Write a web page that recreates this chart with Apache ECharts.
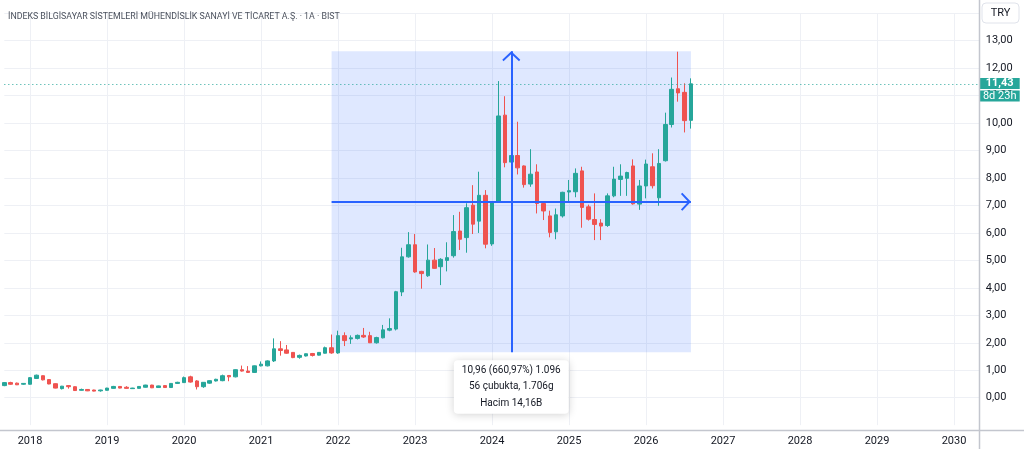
<!DOCTYPE html>
<html>
<head>
<meta charset="utf-8">
<script src="https://cdn.jsdelivr.net/npm/echarts@6/dist/echarts.min.js"></script>
<style>
html,body{margin:0;padding:0;background:#fff;}
#chart{width:1024px;height:449px;}
</style>
</head>
<body>
<div id="chart"></div>
<script>
// ---- texts ----
const titleText = 'İNDEKS BİLGİSAYAR SİSTEMLERİ MÜHENDİSLİK SANAYİ VE TİCARET A.Ş. · 1A · BIST';
const currencyLabel = 'TRY';

// ---- monthly candles, first candle = 2017-09 ----
const firstCandleYear = 2017, firstCandleMonth = 9;
const axisEndYear = 2030, axisEndMonth = 5;

const opens = [
  0.44,0.55,0.53,0.49,
  0.49,0.70,0.80,0.66,0.51,0.33,0.44,0.40,0.27,0.30,0.28,0.25,
  0.27,0.34,0.41,0.38,0.33,0.34,0.38,0.46,0.37,0.44,0.37,0.52,
  0.55,0.76,0.61,0.40,0.53,0.61,0.62,0.81,0.76,1.02,0.97,0.92,
  1.16,1.16,1.34,1.78,1.74,1.65,1.47,1.52,1.61,1.55,1.62,1.82,
  1.63,2.26,2.14,2.16,2.27,2.26,2.00,2.18,2.46,2.50,3.85,5.13,
  5.57,4.60,4.44,5.01,4.77,5.00,5.17,6.07,5.83,7.01,6.43,7.37,
  5.60,7.13,10.29,8.58,8.82,8.44,7.78,8.22,7.07,6.62,6.04,6.62,
  7.49,7.50,8.26,6.95,6.49,6.36,6.27,7.35,7.95,7.99,8.44,7.05,
  7.71,8.41,7.28,8.63,9.95,11.25,11.12,10.10
];
const closes = [
  0.55,0.49,0.47,0.52,
  0.73,0.82,0.65,0.50,0.35,0.42,0.40,0.26,0.30,0.25,0.24,0.28,
  0.35,0.41,0.35,0.34,0.35,0.41,0.46,0.36,0.43,0.37,0.52,0.56,
  0.73,0.57,0.40,0.56,0.62,0.67,0.80,0.76,1.02,0.97,0.92,1.16,
  1.22,1.34,1.78,1.72,1.62,1.46,1.54,1.60,1.54,1.65,1.82,1.63,
  2.26,2.08,2.18,2.27,2.21,2.00,2.19,2.47,2.52,3.86,5.13,5.57,
  4.58,4.52,5.01,4.71,5.04,5.10,6.05,5.77,6.92,6.32,7.37,5.59,
  7.13,10.26,8.56,8.82,8.37,7.76,8.14,7.07,6.80,6.02,6.66,7.48,
  7.54,8.17,6.93,6.50,6.31,6.25,7.35,7.96,8.07,8.20,7.06,7.71,
  8.51,7.72,8.53,9.95,11.23,11.10,10.09,11.43
];
const lows = [
  0.42,0.47,0.46,0.47,
  0.48,0.68,0.63,0.49,0.34,0.30,0.33,0.25,0.26,0.24,0.23,0.22,
  0.26,0.33,0.34,0.33,0.32,0.33,0.37,0.35,0.36,0.36,0.36,0.50,
  0.54,0.55,0.30,0.36,0.51,0.59,0.60,0.60,0.74,0.95,0.90,0.90,
  1.14,1.14,1.30,1.53,1.60,1.44,1.42,1.50,1.50,1.54,1.61,1.60,
  1.60,1.88,1.96,2.12,2.18,1.99,1.97,2.16,2.42,2.45,3.70,5.10,
  4.55,3.97,4.40,4.70,4.10,4.60,5.10,5.38,5.28,5.96,6.00,5.44,
  5.53,7.10,8.39,7.38,8.13,7.65,7.68,6.71,6.47,5.84,5.77,6.56,
  7.14,7.30,6.19,6.45,5.74,5.74,6.22,7.30,7.35,7.35,7.03,6.84,
  7.26,7.62,6.99,8.60,9.84,10.78,9.66,9.80
];
const highs = [
  0.57,0.58,0.55,0.53,
  0.75,0.84,0.81,0.67,0.52,0.43,0.45,0.41,0.33,0.31,0.29,0.29,
  0.36,0.43,0.42,0.42,0.36,0.42,0.47,0.47,0.44,0.45,0.53,0.58,
  0.77,0.80,0.64,0.57,0.63,0.69,0.84,0.82,1.03,1.17,1.15,1.17,
  1.32,1.36,2.16,2.06,1.92,1.66,1.57,1.61,1.63,1.66,1.86,2.30,
  2.44,2.38,2.27,2.30,2.54,2.40,2.22,2.65,2.89,3.89,5.46,6.03,
  5.96,4.62,5.58,5.45,5.08,5.66,6.65,6.77,7.08,7.74,8.23,7.56,
  7.15,11.53,10.98,9.11,10.05,8.46,9.05,8.50,7.10,6.81,6.89,7.50,
  7.93,8.35,8.41,7.03,7.44,6.50,7.44,8.41,8.50,8.23,8.68,7.93,
  8.67,8.90,9.05,10.38,11.66,12.60,11.45,11.63
];

// ---- last price ----
const lastPrice = 11.43;
const lastPriceText = '11,43';
const countdownText = '8d 23h';

// ---- date/price range measurement ----
const rangeStart = '2021-12';
const rangeEnd = '2026-08';
const rangeMiddle = '2024-04';
const rangeLow = 1.658;
const rangeHigh = 12.618;
const rangeLines = ['10,96 (660,97%) 1.096', '56 çubukta, 1.706g', 'Hacim 14,16B'];

// ---- build categories (months) ----
const categories = [];
{
  let y = firstCandleYear, m = firstCandleMonth;
  while (y < axisEndYear || (y === axisEndYear && m <= axisEndMonth)) {
    categories.push(y + '-' + String(m).padStart(2, '0'));
    m++; if (m > 12) { m = 1; y++; }
  }
}
const candleData = categories.map((c, i) =>
  i < opens.length ? [opens[i], closes[i], lows[i], highs[i]] : '-'
);
const isJanuary = (idx) => /-01$/.test(categories[idx]);

const UP = '#26a69a', DOWN = '#ef5350', BLUE = '#2962ff';
const FONT = 'Roboto, "Noto Sans", sans-serif';
const chevron = 'path://M10,0 L20,8.6 L18.6,10 L10,2.8 L1.4,10 L0,8.6 Z';

const chart = echarts.init(document.getElementById('chart'), null, {renderer: 'canvas'});
chart.setOption({
  animation: false,
  backgroundColor: '#ffffff',
  textStyle: {fontFamily: FONT},
  title: {
    text: titleText, left: 3, top: 7,
    textStyle: {fontSize: 8.8, fontWeight: 'normal', color: '#4c525e', fontFamily: FONT}
  },
  grid: {left: 4.33, right: 44.3, top: 13.26, bottom: 23.84, containLabel: false, outerBoundsMode: 'none'},
  xAxis: {
    type: 'category', data: categories, boundaryGap: false, offset: 6,
    axisLine: {show: false}, axisTick: {show: false},
    axisLabel: {
      interval: (i) => isJanuary(i), formatter: v => v.slice(0, 4),
      color: '#131722', fontSize: 11, margin: 5, fontFamily: FONT, hideOverlap: false
    },
    splitLine: {show: true, interval: (i) => isJanuary(i), lineStyle: {color: '#eef0f5', width: 1}}
  },
  yAxis: {
    type: 'value', position: 'right', min: -1, max: 14, interval: 1,
    axisLine: {show: false}, axisTick: {show: false},
    axisLabel: {
      formatter: v => (v >= 0 && v <= 13) ? v.toFixed(2).replace('.', ',') : '',
      color: '#131722', fontSize: 11, margin: 6, align: 'left', fontFamily: FONT
    },
    splitLine: {show: true, showMinLine: false, lineStyle: {color: '#eef0f5', width: 1}}
  },
  series: [{
    type: 'candlestick',
    data: candleData,
    barWidth: 4,
    itemStyle: {color: UP, color0: DOWN, borderColor: UP, borderColor0: DOWN, borderWidth: 1},
    markArea: {
      silent: true,
      itemStyle: {color: 'rgba(41,98,255,0.15)'},
      label: {
        show: true, position: 'bottom', distance: 8,
        formatter: rangeLines.join('\n'),
        backgroundColor: '#ffffff', color: '#131722', fontSize: 10, lineHeight: 16.5,
        padding: [2, 8], borderRadius: 4, align: 'center', fontFamily: FONT,
        shadowBlur: 8, shadowColor: 'rgba(0,0,0,0.18)', shadowOffsetY: 1
      },
      data: [[{coord: [rangeStart, rangeLow]}, {coord: [rangeEnd, rangeHigh]}]]
    },
    markLine: {
      silent: true, animation: false,
      symbol: ['none', 'none'],
      symbolOffset: [[0, 0], [0, 5]],
      label: {show: false},
      lineStyle: {color: BLUE, width: 2, type: 'solid'},
      data: [
        {
          yAxis: lastPrice, symbol: 'none',
          lineStyle: {color: UP, width: 1, type: [1, 3]},
          label: {
            show: true, position: 'end', distance: 0,
            formatter: '{s| }\n{a|' + lastPriceText + '}\n{b|' + countdownText + '}',
            rich: {
              s: {lineHeight: 12, fontSize: 11},
              a: {backgroundColor: UP, color: '#fff', fontSize: 11, fontWeight: 'bold', lineHeight: 12.5, width: 40, align: 'center', fontFamily: FONT},
              b: {backgroundColor: UP, color: '#fff', fontSize: 11, lineHeight: 12.5, width: 40, align: 'center', fontFamily: FONT}
            }
          }
        },
        [
          {coord: [rangeMiddle, rangeLow], symbol: 'none'},
          {coord: [rangeMiddle, rangeHigh], symbol: chevron, symbolSize: [18, 10]}
        ],
        [
          {coord: [rangeStart, (rangeLow + rangeHigh) / 2], symbol: 'none'},
          {coord: [rangeEnd, (rangeLow + rangeHigh) / 2], symbol: chevron, symbolSize: [18, 10]}
        ]
      ]
    }
  }],
  graphic: [
    {type: 'line', shape: {x1: 979.5, y1: 0, x2: 979.5, y2: 449}, style: {stroke: '#c3c6ce', lineWidth: 1.5}, silent: true, z: 10},
    {type: 'line', shape: {x1: 0, y1: 430.5, x2: 1024, y2: 430.5}, style: {stroke: '#c3c6ce', lineWidth: 1.5}, silent: true, z: 10},
    {type: 'rect', shape: {x: 982, y: 3, width: 37, height: 20, r: 4}, style: {fill: '#fff', stroke: '#e0e3eb', lineWidth: 1}, silent: true, z: 10},
    {type: 'text', x: 1000.5, y: 13, style: {text: currencyLabel, fill: '#131722', fontSize: 11, fontFamily: FONT, align: 'center', verticalAlign: 'middle'}, silent: true, z: 11}
  ]
});
</script>
</body>
</html>
